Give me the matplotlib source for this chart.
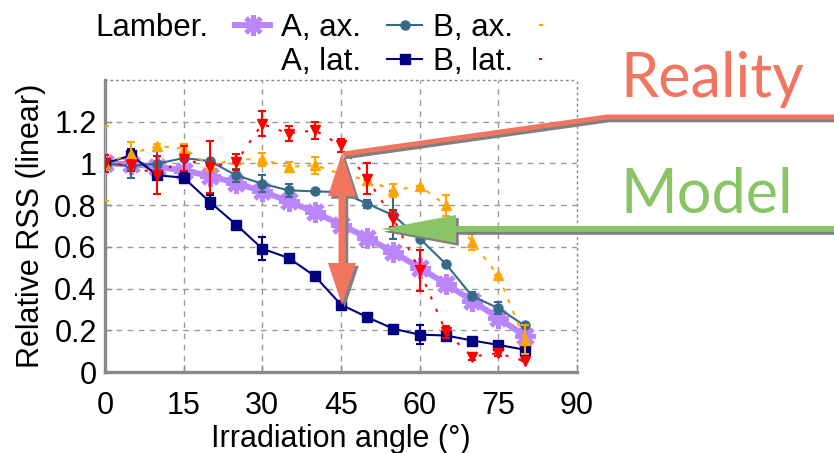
import matplotlib.pyplot as plt
import matplotlib.patheffects as pe
from matplotlib.lines import Line2D
from matplotlib.patches import Polygon, Rectangle

plt.rcParams['font.family'] = ['Liberation Sans', 'DejaVu Sans']

# irradiation angles (deg)
angles = [0, 5, 10, 15, 20, 25, 30, 35, 40, 45, 50, 55, 60, 65, 70, 75, 80]

# Lambertian model
lambert = [1.0, 0.996, 0.985, 0.966, 0.94, 0.906, 0.866, 0.819, 0.766, 0.707,
           0.643, 0.574, 0.5, 0.423, 0.342, 0.259, 0.174]

# A, axial
a_ax = [1.0, 0.988, 0.999, 1.026, 1.011, 0.943, 0.903, 0.871, 0.866, 0.862,
        0.807, 0.751, 0.64, 0.518, 0.364, 0.306, 0.223]
a_ax_err = [0.02, 0.06, 0.06, 0.0, 0.0, 0.03, 0.04, 0.03, 0.0, 0.0,
            0.02, 0.115, 0.0, 0.0, 0.02, 0.03, 0.0]

# A, lateral
a_lat = [1.0, 1.039, 0.943, 0.932, 0.815, 0.707, 0.591, 0.547, 0.46, 0.323,
         0.263, 0.207, 0.179, 0.175, 0.151, 0.13, 0.107]
a_lat_err = [0.02, 0.03, 0.0, 0.025, 0.035, 0.0, 0.055, 0.0, 0.0, 0.0,
             0.0, 0.0, 0.045, 0.0, 0.0, 0.0, 0.015]

# B, axial
b_ax = [1.0, 1.047, 1.084, 1.071, 0.99, 1.02, 1.02, 0.983, 0.991, 0.95,
        0.92, 0.871, 0.892, 0.80, 0.623, 0.463, 0.155]
b_ax_err = [0.18, 0.055, 0.01, 0.02, 0.0, 0.0, 0.03, 0.025, 0.04, 0.0,
            0.0, 0.03, 0.0, 0.05, 0.04, 0.0, 0.07]

# B, lateral
b_lat = [1.0, 0.991, 0.945, 1.023, 0.983, 1.007, 1.19, 1.143, 1.159, 1.087,
         0.927, 0.735, 0.487, 0.191, 0.074, 0.09, 0.052]
b_lat_err = [0.04, 0.025, 0.09, 0.06, 0.125, 0.04, 0.06, 0.035, 0.04, 0.03,
             0.075, 0.04, 0.1, 0.03, 0.015, 0.015, 0.0]

xticks = [0, 15, 30, 45, 60, 75, 90]
yticks = [0, 0.2, 0.4, 0.6, 0.8, 1.0, 1.2]
yticklabels = ['0', '0.2', '0.4', '0.6', '0.8', '1', '1.2']

purple = '#bb86fc'
teal = '#356a8a'
navy = '#000080'
orange = '#ffa500'
red = '#ff0000'
salmon = '#f27560'
green = '#89c465'
gray = '#888888'

fig = plt.figure(figsize=(8.34, 4.53), dpi=100)
ax = fig.add_axes([105 / 834, 81 / 453, 472 / 834, 292 / 453])

lam_kw = dict(color=purple, lw=4.3, marker=(8, 2, 0), ms=15, mew=3.5)
aax_kw = dict(color=teal, lw=1.5, marker='o', ms=6.5)
alat_kw = dict(color=navy, lw=1.5, marker='s', ms=7)
bax_kw = dict(color=orange, lw=1.5, marker='^', ms=7, ls=(0, (2, 4)))
blat_kw = dict(color=red, lw=1.5, marker='v', ms=7, ls=(0, (1.5, 5)))
eb_kw = dict(elinewidth=1.5, capsize=3, capthick=1.5)

ax.plot(angles, lambert, zorder=3, **lam_kw)
ax.errorbar(angles, a_ax, yerr=a_ax_err, zorder=4, **aax_kw, **eb_kw)
ax.errorbar(angles, a_lat, yerr=a_lat_err, zorder=4, **alat_kw, **eb_kw)
ax.errorbar(angles, b_ax, yerr=b_ax_err, zorder=5, **bax_kw, **eb_kw)
ax.errorbar(angles, b_lat, yerr=b_lat_err, zorder=6, **blat_kw, **eb_kw)

ax.set_xlim(0, 90)
ax.set_ylim(0, 1.4)
ax.set_xticks(xticks)
ax.set_yticks(yticks)
ax.set_yticklabels(yticklabels)
ax.tick_params(labelsize=22, direction='in', length=5, color=gray, width=1)
ax.tick_params(axis='x', pad=14)
ax.tick_params(axis='y', pad=6)
ax.grid(True, color='#999999', linestyle=(0, (4, 4)), lw=1)
ax.xaxis.get_gridlines()[-1].set_visible(False)
for s in ['left', 'bottom']:
    ax.spines[s].set_color(gray)
    ax.spines[s].set_linewidth(2.4)
for s in ['top', 'right']:
    ax.spines[s].set_color(gray)
    ax.spines[s].set_linewidth(1)
    ax.spines[s].set_linestyle((0, (1, 3)))
ax.set_xlabel('Irradiation angle (°)', fontsize=22, labelpad=2)
ax.set_ylabel('Relative RSS (linear)', fontsize=22, labelpad=6)

# legend proxies (no error bars in the key)
handles = [Line2D([], [], **lam_kw), Line2D([], [], ls='none'),
           Line2D([], [], **aax_kw), Line2D([], [], **alat_kw),
           Line2D([], [], **bax_kw), Line2D([], [], **blat_kw)]
labels = ['Lamber.', '', 'A, ax.', 'A, lat.', 'B, ax.', 'B, lat.']
ax.legend(handles, labels, ncol=3, markerfirst=False, frameon=False,
          fontsize=22.5, loc='upper left', bbox_to_anchor=(80 / 834, 1.006),
          bbox_transform=fig.transFigure, borderpad=0, labelspacing=0.12,
          handlelength=1.1, handletextpad=0.85, columnspacing=0.35)

# annotation overlay in pixel coordinates
ov = fig.add_axes([0, 0, 1, 1], zorder=10)
ov.set_xlim(0, 834)
ov.set_ylim(453, 0)
ov.axis('off')
ov.patch.set_alpha(0)

ov.add_patch(Rectangle((549, 0), 60, 72, fc='white', ec='none'))

shadow_line = [pe.SimpleLineShadow(offset=(1.5, -2), shadow_color='#808080', alpha=1),
               pe.Normal()]
shadow_patch = [pe.SimplePatchShadow(offset=(2, -2), shadow_rgbFace='#808080', alpha=1),
                pe.Normal()]

ov.plot([343, 607, 834], [154, 117, 117], color=salmon, lw=3.6,
        solid_capstyle='butt', path_effects=shadow_line)
ov.add_patch(Polygon([(342, 153), (356, 196), (345.5, 196), (345.5, 263),
                      (356, 263), (342, 305), (328, 263), (338.5, 263),
                      (338.5, 196), (328, 196)],
                     closed=True, fc=salmon, ec='none', path_effects=shadow_patch))
ov.add_patch(Polygon([(381, 229), (456, 215), (456, 226), (834, 226),
                      (834, 232), (456, 232), (456, 243)],
                     closed=True, fc=green, ec='none', path_effects=shadow_patch))

ov.text(620, 97, 'Reality', color=salmon, fontsize=44, family='Lato',
        va='baseline', ha='left')
ov.text(620, 213, 'Model', color=green, fontsize=44, family='Lato',
        va='baseline', ha='left')

fig.savefig('out.png', dpi=100)
